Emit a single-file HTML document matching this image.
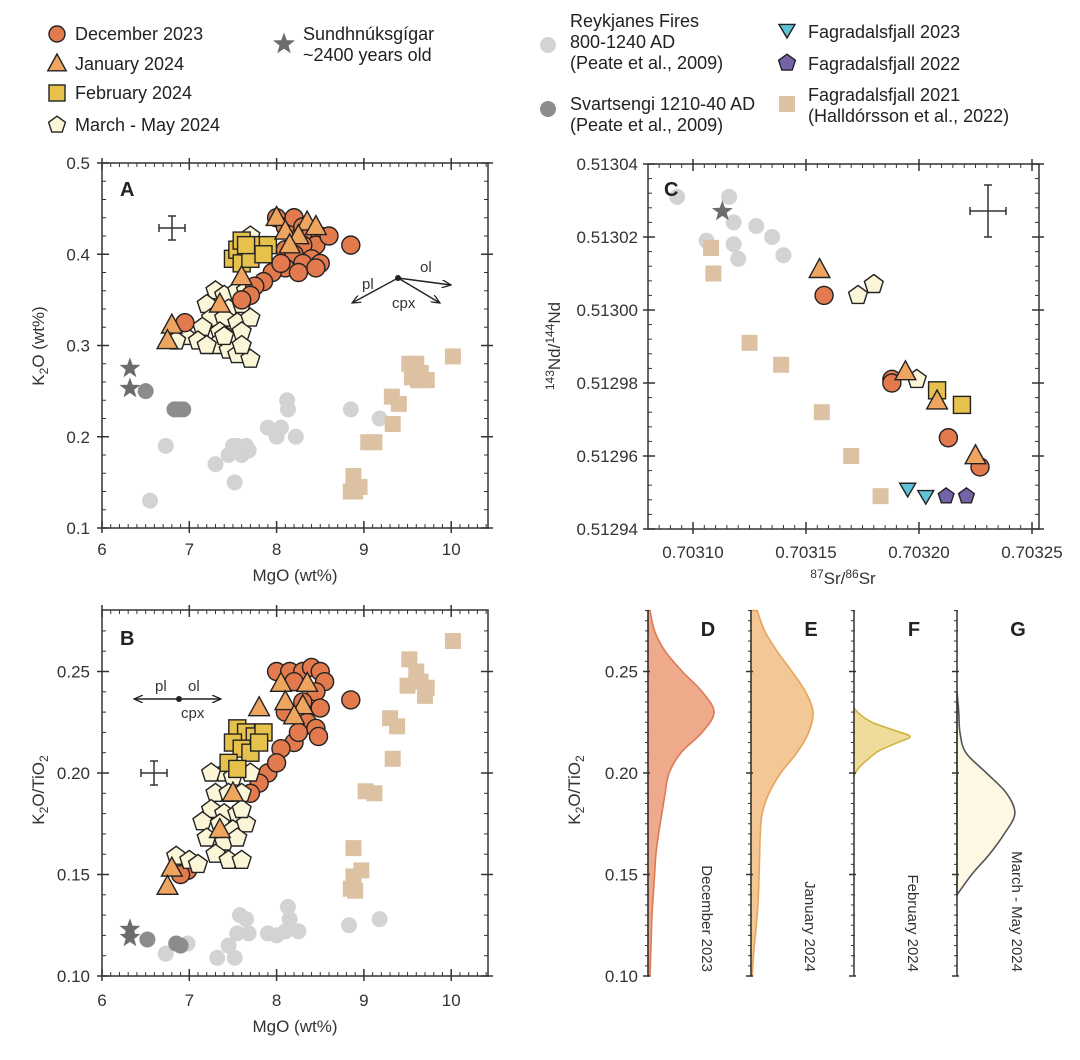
<!DOCTYPE html>
<html><head><meta charset="utf-8"><style>
body{margin:0;background:#fff}
svg{display:block;font-family:"Liberation Sans","DejaVu Sans",sans-serif}
</style></head><body>
<svg id="fig" width="1080" height="1060" viewBox="0 0 1080 1060" xmlns="http://www.w3.org/2000/svg">
<defs>
<marker id="arr" markerWidth="10" markerHeight="8" refX="9" refY="4" orient="auto" markerUnits="userSpaceOnUse"><path d="M0,0 L9,4 L0,8" fill="none" stroke="#222" stroke-width="1.3"/></marker>
</defs>
<g id="legend" font-size="18" fill="#222"></g>
<g id="root"></g>
</svg>
<script>
// ---------- Panel A data (MgO, K2O) ----------
const aDec=[[8.0,0.44],[8.1,0.43],[8.2,0.44],[8.3,0.43],[8.4,0.425],[8.5,0.42],[8.45,0.41],[8.3,0.41],[8.1,0.405],[8.2,0.4],[8.4,0.395],[8.5,0.39],[8.3,0.39],[8.1,0.385],[7.95,0.38],[8.05,0.39],[8.25,0.38],[8.45,0.385],[7.85,0.37],[7.75,0.365],[7.7,0.355],[7.6,0.35],[8.85,0.41],[6.95,0.325],[8.6,0.42]];
const aJan=[[8.0,0.44],[8.35,0.435],[8.1,0.425],[8.25,0.42],[8.15,0.41],[8.45,0.43],[7.6,0.375],[7.35,0.345],[6.8,0.322],[6.75,0.305]];
const aFeb=[[7.5,0.395],[7.55,0.405],[7.6,0.415],[7.7,0.405],[7.8,0.41],[7.9,0.41],[7.6,0.39],[7.7,0.395],[7.65,0.41],[7.85,0.4]];
const aMar=[[7.7,0.42],[7.3,0.36],[7.4,0.355],[7.55,0.36],[7.65,0.36],[7.2,0.345],[7.45,0.34],[7.6,0.345],[7.25,0.33],[7.4,0.33],[7.55,0.325],[7.7,0.33],[7.15,0.32],[7.35,0.315],[7.6,0.315],[6.95,0.31],[7.1,0.305],[7.3,0.3],[7.45,0.295],[7.55,0.29],[7.7,0.285],[7.6,0.3],[6.85,0.305],[7.2,0.3],[7.4,0.31]];
const aStar=[[6.32,0.275],[6.32,0.253]];
const aSvart=[[6.5,0.25],[6.83,0.23],[6.88,0.23],[6.93,0.23]];
const aReyk=[[6.55,0.13],[6.73,0.19],[7.3,0.17],[7.45,0.18],[7.52,0.15],[7.55,0.19],[7.65,0.19],[7.6,0.18],[7.68,0.185],[8.12,0.24],[8.13,0.23],[7.9,0.21],[8.0,0.2],[8.05,0.21],[8.22,0.2],[8.85,0.23],[9.18,0.22],[7.5,0.19]];
const aF21=[[8.85,0.14],[8.9,0.14],[8.95,0.145],[8.88,0.157],[9.05,0.194],[9.12,0.194],[9.33,0.214],[9.32,0.244],[9.4,0.236],[9.52,0.28],[9.6,0.28],[9.55,0.265],[9.65,0.27],[9.72,0.262],[9.62,0.262],[10.02,0.288]];
// ---------- Panel B data (MgO, K2O/TiO2) ----------
const bDec=[[8.0,0.25],[8.15,0.25],[8.3,0.25],[8.4,0.252],[8.5,0.25],[8.55,0.245],[8.2,0.245],[8.45,0.24],[8.3,0.235],[8.5,0.232],[8.1,0.23],[8.35,0.225],[8.45,0.222],[8.48,0.218],[8.2,0.215],[8.05,0.212],[7.9,0.2],[8.0,0.205],[7.8,0.195],[7.7,0.19],[7.5,0.2],[6.98,0.152],[6.9,0.15],[8.85,0.236],[8.25,0.22]];
const bJan=[[8.05,0.244],[8.35,0.244],[8.1,0.235],[8.3,0.233],[7.8,0.232],[8.2,0.228],[7.5,0.19],[7.35,0.172],[6.8,0.153],[6.75,0.144]];
const bFeb=[[7.55,0.222],[7.65,0.22],[7.75,0.218],[7.85,0.22],[7.5,0.215],[7.6,0.212],[7.7,0.21],[7.45,0.205],[7.55,0.202],[7.8,0.215]];
const bMar=[[7.4,0.2],[7.5,0.198],[7.7,0.2],[7.3,0.19],[7.45,0.19],[7.6,0.19],[7.25,0.182],[7.4,0.18],[7.55,0.18],[7.15,0.176],[7.35,0.175],[7.5,0.172],[7.65,0.175],[7.2,0.168],[7.4,0.166],[7.55,0.168],[7.3,0.16],[7.45,0.157],[7.6,0.157],[6.85,0.159],[7.0,0.157],[7.1,0.155],[7.6,0.182],[7.25,0.2]];
const bStar=[[6.32,0.123],[6.32,0.119]];
const bSvart=[[6.52,0.118],[6.85,0.116],[6.9,0.115]];
const bReyk=[[6.73,0.111],[6.98,0.116],[7.32,0.109],[7.52,0.109],[7.45,0.115],[7.55,0.121],[7.58,0.13],[7.65,0.128],[7.68,0.121],[7.9,0.121],[8.0,0.12],[8.1,0.122],[8.13,0.134],[8.15,0.128],[8.25,0.122],[8.83,0.125],[9.18,0.128]];
const bF21=[[8.85,0.143],[8.9,0.142],[8.88,0.149],[8.97,0.152],[8.88,0.163],[9.02,0.191],[9.12,0.19],[9.33,0.207],[9.3,0.227],[9.38,0.223],[9.52,0.256],[9.5,0.243],[9.6,0.25],[9.65,0.245],[9.72,0.242],[9.7,0.238],[10.02,0.265]];
// ---------- Panel C data (87Sr/86Sr, 143Nd/144Nd) ----------
const cReyk=[[0.703093,0.513031],[0.703116,0.513031],[0.703118,0.513024],[0.703106,0.513019],[0.703118,0.513018],[0.703128,0.513023],[0.703135,0.51302],[0.70312,0.513014],[0.70314,0.513015]];
const cStar=[[0.703113,0.513027]];
const cF21=[[0.703108,0.513017],[0.703109,0.51301],[0.703125,0.512991],[0.703139,0.512985],[0.703157,0.512972],[0.70317,0.51296],[0.703183,0.512949]];
const cDec=[[0.703158,0.513004],[0.703188,0.512981],[0.703188,0.51298],[0.703213,0.512965],[0.703227,0.512957]];
const cJan=[[0.703156,0.513011],[0.703194,0.512983],[0.703208,0.512975],[0.703225,0.51296]];
const cFeb=[[0.703208,0.512978],[0.703219,0.512974]];
const cMar=[[0.703173,0.513004],[0.70318,0.513007],[0.703199,0.512981]];
const cF23=[[0.703195,0.512951],[0.703203,0.512949]];
const cF22=[[0.703212,0.512949],[0.703221,0.512949]];
// ---------- Panels D-G density ----------
const dYs=[0.10,0.11,0.12,0.13,0.14,0.15,0.16,0.17,0.18,0.19,0.20,0.21,0.22,0.23,0.24,0.25,0.26,0.27,0.28];
const densDec=[0.03,0.04,0.05,0.06,0.08,0.1,0.12,0.16,0.21,0.26,0.32,0.5,0.82,1.0,0.82,0.52,0.26,0.1,0.03];
const densJan=[0.02,0.04,0.07,0.1,0.12,0.13,0.14,0.15,0.18,0.29,0.48,0.74,0.93,1.0,0.88,0.66,0.42,0.22,0.1];
const fYs=[0.199,0.203,0.207,0.211,0.215,0.218,0.221,0.225,0.229,0.232];
const densFeb=[0,0.1,0.26,0.45,0.78,1.0,0.72,0.32,0.1,0];
const gYs=[0.14,0.15,0.16,0.17,0.18,0.19,0.20,0.21,0.22,0.23,0.24];
const densMar=[0.0,0.25,0.55,0.8,0.98,0.84,0.5,0.15,0.05,0.03,0.0];

const NS='http://www.w3.org/2000/svg';
const root=document.getElementById('root');
function el(tag,attrs,parent){const e=document.createElementNS(NS,tag);for(const k in attrs)e.setAttribute(k,attrs[k]);(parent||root).appendChild(e);return e;}
const COL={dec:'#e27a4e',jan:'#eea55f',feb:'#e6c24c',mar:'#fbf6d8',reyk:'#d3d3d3',svart:'#8c8c8c',star:'#6c6c6c',f21:'#dcc2a2',f23:'#5ec3d6',f22:'#7563a8'};
function marker(g,type,x,y,fill,stroke,s){
  s=s||8;let m;const st=stroke?{stroke:'#222','stroke-width':1.4}:{};
  if(type==='c'){m=el('circle',Object.assign({cx:x,cy:y,r:s,fill:fill},st),g);}
  else if(type==='s'){m=el('rect',Object.assign({x:x-s,y:y-s,width:2*s,height:2*s,fill:fill},st),g);}
  else if(type==='t'){m=el('polygon',Object.assign({points:`${x},${y-s*1.25} ${x-s*1.15},${y+s*0.85} ${x+s*1.15},${y+s*0.85}`,fill:fill},st),g);}
  else if(type==='v'){m=el('polygon',Object.assign({points:`${x},${y+s} ${x-s},${y-s*0.7} ${x+s},${y-s*0.7}`,fill:fill},st),g);}
  else if(type==='p'){let p=[];for(let i=0;i<5;i++){const a=-Math.PI/2+i*2*Math.PI/5;p.push((x+s*1.1*Math.cos(a)).toFixed(1)+','+(y+s*1.1*Math.sin(a)).toFixed(1));}m=el('polygon',Object.assign({points:p.join(' '),fill:fill},st),g);}
  else if(type==='*'){let p=[];for(let i=0;i<10;i++){const a=-Math.PI/2+i*Math.PI/5;const r=i%2?s*0.45:s*1.1;p.push((x+r*Math.cos(a)).toFixed(1)+','+(y+r*Math.sin(a)).toFixed(1));}m=el('polygon',{points:p.join(' '),fill:fill},g);}
  return m;
}
function text(g,x,y,t,attrs){const e=el('text',Object.assign({x:x,y:y},attrs||{}),g);e.textContent=t;return e;}

function frame(g,L,R,T,B,xTicks,xMin,xMax,yTicks,yMin,yMax,sx,sy){
  el('rect',{x:L,y:T,width:R-L,height:B-T,fill:'none',stroke:'#333','stroke-width':1.5},g);
  const ax=xTicks.map(sx),ay=yTicks.map(sy);
  const xs=(xTicks[1]-xTicks[0])/10, ys=(yTicks[1]-yTicks[0])/5;
  for(let v=xTicks[0]-20*xs;v<=xMax+1e-12;v+=xs){const px=sx(v);if(px<L+1||px>R-1)continue;el('line',{x1:px,x2:px,y1:B,y2:B-4,stroke:'#333','stroke-width':1},g);el('line',{x1:px,x2:px,y1:T,y2:T+4,stroke:'#333','stroke-width':1},g);}
  for(let v=yTicks[0]-10*ys;v<=yMax+1e-12;v+=ys){const py=sy(v);if(py<T+1||py>B-1)continue;el('line',{x1:L,x2:L+4,y1:py,y2:py,stroke:'#333','stroke-width':1},g);el('line',{x1:R,x2:R-4,y1:py,y2:py,stroke:'#333','stroke-width':1},g);}
  ax.forEach(px=>{el('line',{x1:px,x2:px,y1:B+5,y2:B-7,stroke:'#333','stroke-width':1.5},g);el('line',{x1:px,x2:px,y1:T-5,y2:T+7,stroke:'#333','stroke-width':1.5},g);});
  ay.forEach(py=>{el('line',{x1:L-5,x2:L+7,y1:py,y2:py,stroke:'#333','stroke-width':1.5},g);el('line',{x1:R+5,x2:R-7,y1:py,y2:py,stroke:'#333','stroke-width':1.5},g);});
}
function errCross(g,x,y,dx,dy){el('line',{x1:x-dx,x2:x+dx,y1:y,y2:y,stroke:'#333','stroke-width':1.5},g);el('line',{x1:x,x2:x,y1:y-dy,y2:y+dy,stroke:'#333','stroke-width':1.5},g);
  [[x-dx,y-4,x-dx,y+4],[x+dx,y-4,x+dx,y+4],[x-4,y-dy,x+4,y-dy],[x-4,y+dy,x+4,y+dy]].forEach(a=>el('line',{x1:a[0],y1:a[1],x2:a[2],y2:a[3],stroke:'#333','stroke-width':1.5},g));}
function series(g,data,type,fill,stroke,sx,sy,name,s){const sg=el('g',{},g);
  data.forEach(d=>{const m=marker(sg,type,sx(d[0]),sy(d[1]),fill,stroke,s);});}

// ---------- Panel A ----------
(function(){
 const g=el('g',{});
 const sx=v=>102+(v-6)*87.3, sy=v=>528-(v-0.1)*912.5;
 frame(g,102,488,163,528,[6,7,8,9,10],6,10.42,[0.1,0.2,0.3,0.4,0.5],0.1,0.5,sx,sy);
 [6,7,8,9,10].forEach(v=>{const t=text(g,sx(v),555,String(v),{'font-size':17,'text-anchor':'middle',fill:'#333'});});
 [0.1,0.2,0.3,0.4,0.5].forEach(v=>{const t=text(g,90,sy(v)+6,v.toFixed(1),{'font-size':17,'text-anchor':'end',fill:'#333'});});
 const xl=text(g,295,581,'MgO (wt%)',{'font-size':17,'text-anchor':'middle',fill:'#333'});
 const yl=el('text',{x:0,y:0,transform:'translate(44,346) rotate(-90)','font-size':17,'text-anchor':'middle',fill:'#333'},g);yl.innerHTML='K<tspan font-size="12" dy="4">2</tspan><tspan dy="-4">O (wt%)</tspan>';
 const lb=text(g,120,196,'A',{'font-size':20,'font-weight':'bold',fill:'#222'});
 errCross(g,172,228,13,12);
 const mv=el('g',{},g);
 el('circle',{cx:398,cy:278,r:3,fill:'#222'},mv);
 [[451,285],[352,303],[440,303]].forEach(e=>el('line',{x1:398,y1:278,x2:e[0],y2:e[1],stroke:'#222','stroke-width':1.4,'marker-end':'url(#arr)'},mv));
 text(mv,362,289,'pl',{'font-size':15,fill:'#333'});text(mv,420,272,'ol',{'font-size':15,fill:'#333'});text(mv,392,308,'cpx',{'font-size':15,fill:'#333'});
 series(g,aReyk,'c',COL.reyk,false,sx,sy,'reykjanes-points',8);
 series(g,aF21,'s',COL.f21,false,sx,sy,'fagradalsfjall-2021-points',8);
 series(g,aSvart,'c',COL.svart,false,sx,sy,'svartsengi-points',8);
 series(g,aStar,'*',COL.star,false,sx,sy,'sundhnuksgigar-points',10);
 series(g,aMar,'p',COL.mar,true,sx,sy,'march-may-2024-points',9);
 series(g,aDec,'c',COL.dec,true,sx,sy,'december-2023-points',9);
 series(g,aFeb,'s',COL.feb,true,sx,sy,'february-2024-points',8.5);
 series(g,aJan,'t',COL.jan,true,sx,sy,'january-2024-points',9);
})();
// ---------- Panel B ----------
(function(){
 const g=el('g',{});
 const sx=v=>102+(v-6)*87.3, sy=v=>976-(v-0.1)*2030;
 frame(g,102,488,610,976,[6,7,8,9,10],6,10.42,[0.10,0.15,0.20,0.25],0.1,0.28,sx,sy);
 [6,7,8,9,10].forEach(v=>{const t=text(g,sx(v),1006,String(v),{'font-size':17,'text-anchor':'middle',fill:'#333'});});
 [0.10,0.15,0.20,0.25].forEach(v=>{const t=text(g,90,sy(v)+6,v.toFixed(2),{'font-size':17,'text-anchor':'end',fill:'#333'});});
 const xl=text(g,295,1032,'MgO (wt%)',{'font-size':17,'text-anchor':'middle',fill:'#333'});
 const yl=el('text',{x:0,y:0,transform:'translate(44,790) rotate(-90)','font-size':17,'text-anchor':'middle',fill:'#333'},g);yl.innerHTML='K<tspan font-size="12" dy="4">2</tspan><tspan dy="-4">O/TiO</tspan><tspan font-size="12" dy="4">2</tspan>';
 const lb=text(g,120,645,'B',{'font-size':20,'font-weight':'bold',fill:'#222'});
 errCross(g,154,773,13,12);
 const mv=el('g',{},g);
 el('circle',{cx:179,cy:699,r:3,fill:'#222'},mv);
 [[134,699],[221,699]].forEach(e=>el('line',{x1:179,y1:699,x2:e[0],y2:e[1],stroke:'#222','stroke-width':1.4,'marker-end':'url(#arr)'},mv));
 text(mv,155,691,'pl',{'font-size':15,fill:'#333'});text(mv,188,691,'ol',{'font-size':15,fill:'#333'});text(mv,181,718,'cpx',{'font-size':15,fill:'#333'});
 series(g,bReyk,'c',COL.reyk,false,sx,sy,'reykjanes-points',8);
 series(g,bF21,'s',COL.f21,false,sx,sy,'fagradalsfjall-2021-points',8);
 series(g,bSvart,'c',COL.svart,false,sx,sy,'svartsengi-points',8);
 series(g,bStar,'*',COL.star,false,sx,sy,'sundhnuksgigar-points',10);
 series(g,bDec,'c',COL.dec,true,sx,sy,'december-2023-points',9);
 series(g,bMar,'p',COL.mar,true,sx,sy,'march-may-2024-points',9);
 series(g,bFeb,'s',COL.feb,true,sx,sy,'february-2024-points',8.5);
 series(g,bJan,'t',COL.jan,true,sx,sy,'january-2024-points',9);
})();
// ---------- Panel C ----------
(function(){
 const g=el('g',{});
 const sx=v=>693+(v-0.7031)/0.00005*113, sy=v=>529-(v-0.51294)/0.00002*73;
 frame(g,648,1039,164,529,[0.7031,0.70315,0.7032,0.70325],0.70308,0.703253,[0.51294,0.51296,0.51298,0.513,0.51302,0.51304],0.51294,0.51304,sx,sy);
 [0.7031,0.70315,0.7032,0.70325].forEach(v=>{const t=text(g,sx(v),558,v.toFixed(5),{'font-size':17,'text-anchor':'middle',fill:'#333'});});
 [0.51294,0.51296,0.51298,0.513,0.51302,0.51304].forEach(v=>{const t=text(g,638,sy(v)+6,v.toFixed(5),{'font-size':17,'text-anchor':'end',fill:'#333'});});
 const xl=el('text',{x:843,y:584,'font-size':17,'text-anchor':'middle',fill:'#333'},g);xl.innerHTML='<tspan font-size="12" dy="-6">87</tspan><tspan dy="6">Sr/</tspan><tspan font-size="12" dy="-6">86</tspan><tspan dy="6">Sr</tspan>';
 const yl=el('text',{x:0,y:0,transform:'translate(560,346) rotate(-90)','font-size':17,'text-anchor':'middle',fill:'#333'},g);yl.innerHTML='<tspan font-size="12" dy="-6">143</tspan><tspan dy="6">Nd/</tspan><tspan font-size="12" dy="-6">144</tspan><tspan dy="6">Nd</tspan>';
 errCross(g,988,211,18,26);
 series(g,cReyk,'c',COL.reyk,false,sx,sy,'reykjanes-points',8);
 series(g,cF21,'s',COL.f21,false,sx,sy,'fagradalsfjall-2021-points',8);
 series(g,cStar,'*',COL.star,false,sx,sy,'sundhnuksgigar-points',10);
 series(g,cMar,'p',COL.mar,true,sx,sy,'march-may-2024-points',9);
 series(g,cDec,'c',COL.dec,true,sx,sy,'december-2023-points',9);
 series(g,cFeb,'s',COL.feb,true,sx,sy,'february-2024-points',8.5);
 series(g,cJan,'t',COL.jan,true,sx,sy,'january-2024-points',9);
 series(g,cF23,'v',COL.f23,true,sx,sy,'fagradalsfjall-2023-points',8);
 series(g,cF22,'p',COL.f22,true,sx,sy,'fagradalsfjall-2022-points',7.5);
 const lb=text(g,664,196,'C',{'font-size':20,'font-weight':'bold',fill:'#222'});
})();
// ---------- Panels D-G ----------
(function(){
 const sy=v=>976-(v-0.1)*2030;
 const top=610,bot=976;
 const lab=el('text',{x:0,y:0,transform:'translate(580,790) rotate(-90)','font-size':17,'text-anchor':'middle',fill:'#333'});lab.innerHTML='K<tspan font-size="12" dy="4">2</tspan><tspan dy="-4">O/TiO</tspan><tspan font-size="12" dy="4">2</tspan>';
 [0.10,0.15,0.20,0.25].forEach(v=>{const t=text(root,638,sy(v)+6,v.toFixed(2),{'font-size':17,'text-anchor':'end',fill:'#333'});});
 const panels=[
  {n:'d',x0:648,w:66,ys:dYs,d:densDec,fill:'#eeaa8a',stroke:'#dc7a55',lab:'December 2023',L:'D',lx:708},
  {n:'e',x0:751,w:62,ys:dYs,d:densJan,fill:'#f3c796',stroke:'#e8a55a',lab:'January 2024',L:'E',lx:811},
  {n:'f',x0:854,w:56,ys:fYs,d:densFeb,fill:'#f0dc9a',stroke:'#cdb440',lab:'February 2024',L:'F',lx:914},
  {n:'g',x0:957,w:59,ys:gYs,d:densMar,fill:'#fdf8e4',stroke:'#555',lab:'March - May 2024',L:'G',lx:1018}];
 panels.forEach(p=>{
  const g=el('g',{});
  const pts=p.ys.map((y,i)=>[p.x0+p.d[i]*p.w,sy(y)]);
  let d=`M${p.x0},${sy(p.ys[0])} L${pts[0][0]},${pts[0][1]}`;
  for(let i=0;i<pts.length-1;i++){const p0=pts[Math.max(0,i-1)],p1=pts[i],p2=pts[i+1],p3=pts[Math.min(pts.length-1,i+2)];
   d+=` C${p1[0]+(p2[0]-p0[0])/6},${p1[1]+(p2[1]-p0[1])/6} ${p2[0]-(p3[0]-p1[0])/6},${p2[1]-(p3[1]-p1[1])/6} ${p2[0]},${p2[1]}`;}
  d+=` L${p.x0},${sy(p.ys[p.ys.length-1])} Z`;
  const path=el('path',{d:d,fill:p.fill,stroke:p.stroke,'stroke-width':1.6},g);
  el('line',{x1:p.x0,x2:p.x0,y1:top,y2:bot,stroke:'#333','stroke-width':1.5},g);
  for(let v=0.10;v<=0.2801;v+=0.01){const py=sy(v);const major=Math.abs((v*100)%5)<0.01||Math.abs((v*100)%5-5)<0.01;el('line',{x1:p.x0-(major?5:3),x2:p.x0+(major?2:1),y1:py,y2:py,stroke:'#333','stroke-width':major?1.5:1},g);}
  for(let v=0.105;v<=0.28;v+=0.01){const py=sy(v);el('line',{x1:p.x0-3,x2:p.x0,y1:py,y2:py,stroke:'#333','stroke-width':1},g);}
  const L=text(g,p.lx,636,p.L,{'font-size':20,'font-weight':'bold',fill:'#222','text-anchor':'middle'});
  const t=el('text',{x:0,y:0,transform:`translate(${p.lx-6},972) rotate(90)`,'font-size':15,'text-anchor':'end',fill:'#333'},g);t.textContent=p.lab;
 });
})();
// ---------- Legend ----------
(function(){
 const lg=document.getElementById('legend');
 const items=[
  ['c',COL.dec,true,57,34,['December 2023'],75,40],
  ['t',COL.jan,true,57,64,['January 2024'],75,70],
  ['s',COL.feb,true,57,93,['February 2024'],75,99],
  ['p',COL.mar,true,57,125,['March - May 2024'],75,131],
  ['*',COL.star,false,284,44,['Sundhnúksgígar','~2400 years old'],303,40],
  ['c',COL.reyk,false,548,45,['Reykjanes Fires','800-1240 AD','(Peate et al., 2009)'],570,27],
  ['c',COL.svart,false,548,109,['Svartsengi 1210-40 AD','(Peate et al., 2009)'],570,110],
  ['v',COL.f23,true,787,30,['Fagradalsfjall 2023'],808,38],
  ['p',COL.f22,true,787,63,['Fagradalsfjall 2022'],808,70],
  ['s',COL.f21,false,787,104,['Fagradalsfjall 2021','(Halldórsson et al., 2022)'],808,101]];
 items.forEach(it=>{const g=el('g',{},lg);
  marker(g,it[0],it[3],it[4],it[1],it[2],it[0]==='*'?10.5:8);
  it[5].forEach((s,i)=>text(g,it[6],it[7]+i*21,s,{fill:'#222'}));});
})();
</script>
</body></html>
